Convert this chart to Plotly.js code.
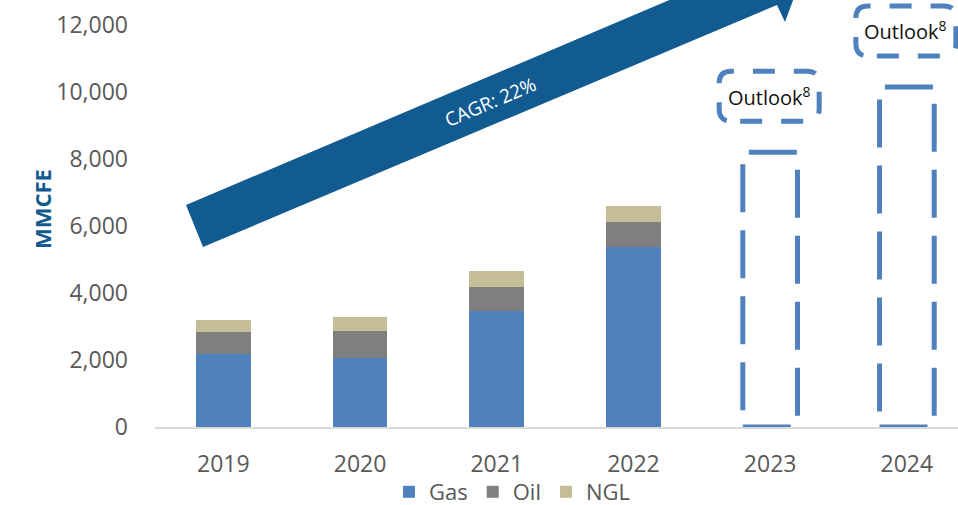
<!DOCTYPE html>
<html>
<head>
<meta charset="utf-8">
<script src="https://cdn.plot.ly/plotly-3.0.1.min.js"></script>
<style>html,body{margin:0;padding:0;background:#fff;}#chart{width:958px;height:505px;}</style>
</head>
<body>
<div id="chart"></div>
<script>
// ---- data ----
const years = ['2019', '2020', '2021', '2022', '2023', '2024'];
const gas = [2170, 2050, 3470, 5365, null, null];
const oil = [675, 825, 700, 745, null, null];
const ngl = [340, 420, 480, 495, null, null];
const outlook = [null, null, null, null, 8200, 10150];
const seriesNames = ['Gas', 'Oil', 'NGL'];
const outlookText = 'Outlook<sup>8</sup>';
const arrowText = 'CAGR: 22%';
const yTitle = 'MMCFE';

// ---- styles ----
const colors = ['#4f81bd', '#7f7f7f', '#c4bd97'];
const dashBlue = '#4f81bd';
const arrowColor = '#125b90';
const FONT = '"Open Sans", "Liberation Sans", sans-serif';

const traces = [gas, oil, ngl].map((vals, i) => ({
  type: 'bar',
  name: seriesNames[i],
  x: years,
  y: vals,
  marker: { color: colors[i], line: { width: 0 } },
  hoverinfo: 'x+y+name'
}));

const shapes = [];
const annotations = [];

// big CAGR arrow (decorative, pixel coords relative to plot top-left)
const arrowPts = [[186, 205], [203, 247], [777, 5], [785, 22], [805, -32], [752, -56], [759, -38]];
const plotLeft = 155;
const arrowPath = 'M' + arrowPts.map(p => `${p[0] - plotLeft},${-p[1]}`).join(' L') + ' Z';
shapes.push({
  type: 'path', xref: 'paper', yref: 'paper',
  xsizemode: 'pixel', ysizemode: 'pixel', xanchor: 0, yanchor: 1,
  path: arrowPath, fillcolor: arrowColor, line: { width: 0 }, layer: 'below'
});
annotations.push({
  xref: 'paper', yref: 'paper', x: (490 - 155) / 803, y: (427 - 102) / 427,
  xanchor: 'center', yanchor: 'middle',
  text: arrowText, showarrow: false, textangle: -23,
  bgcolor: arrowColor,
  font: { family: FONT, size: 19, color: '#ffffff' }
});

// dashed outlook bars (data-driven)
outlook.forEach((v, i) => {
  if (v == null) return;
  shapes.push({
    type: 'rect', xref: 'x', yref: 'y',
    x0: i - 0.2, x1: i + 0.2, y0: 0, y1: v,
    line: { color: dashBlue, width: 5, dash: '48px,18px' },
    fillcolor: 'rgba(0,0,0,0)', layer: 'above'
  });
  // rounded dashed label box, anchored above the outlook bar (pixel sized)
  const x0 = -51, x1 = 49, y0 = 31, y1 = 81, r = 12, s = -30;
  const p = `M${s},${y0} H${x1 - r} Q${x1},${y0} ${x1},${y0 + r} V${y1 - r} Q${x1},${y1} ${x1 - r},${y1} ` +
            `H${x0 + r} Q${x0},${y1} ${x0},${y1 - r} V${y0 + r} Q${x0},${y0} ${x0 + r},${y0} Z`;
  shapes.push({
    type: 'path', xref: 'x', yref: 'y',
    xsizemode: 'pixel', ysizemode: 'pixel', xanchor: i, yanchor: v,
    path: p,
    line: { color: dashBlue, width: 5, dash: '22px,19px' },
    fillcolor: 'rgba(0,0,0,0)', layer: 'above'
  });
  annotations.push({
    xref: 'x', yref: 'y', x: i, y: v, yshift: 56, xshift: -1,
    text: outlookText, showarrow: false,
    bgcolor: 'rgba(255,255,255,0)',
    font: { family: FONT, size: 20, color: '#111111' }
  });
});

// y axis title
annotations.push({
  xref: 'paper', yref: 'paper', x: (25 - 155) / 803, y: (427 - 209) / 427,
  text: '<b>' + yTitle + '</b>', showarrow: false, textangle: -90,
  font: { family: FONT, size: 22, color: '#135a8f' }
});

const layout = {
  width: 958, height: 505,
  margin: { l: 155, r: 0, t: 0, b: 78, autoexpand: false },
  paper_bgcolor: '#ffffff', plot_bgcolor: 'rgba(0,0,0,0)',
  barmode: 'stack', bargap: 0.6,
  font: { family: FONT, color: '#595959' },
  xaxis: {
    type: 'category', range: [-0.5, 5.374],
    showline: true, linecolor: '#d9d9d9', linewidth: 2,
    ticks: '', showgrid: false, zeroline: false,
    tickfont: { family: FONT, size: 23, color: '#595959' },
    ticklabelstandoff: 15, fixedrange: true
  },
  yaxis: {
    range: [0, 427 / 0.0335],
    tickvals: [0, 2000, 4000, 6000, 8000, 10000, 12000],
    tickformat: ',d',
    showline: false, showgrid: false, zeroline: false, ticks: '',
    tickfont: { family: FONT, size: 23, color: '#595959' },
    ticklabelstandoff: 26, fixedrange: true
  },
  showlegend: true,
  legend: {
    orientation: 'h', x: (512 - 155) / 803, xanchor: 'center',
    y: (427 - 513) / 427, yanchor: 'bottom',
    font: { family: FONT, size: 22, color: '#595959' },
    traceorder: 'normal', bgcolor: 'rgba(0,0,0,0)'
  },
  shapes: shapes,
  annotations: annotations
};

Plotly.newPlot('chart', traces, layout, { displayModeBar: false, staticPlot: true });
</script>
</body>
</html>
